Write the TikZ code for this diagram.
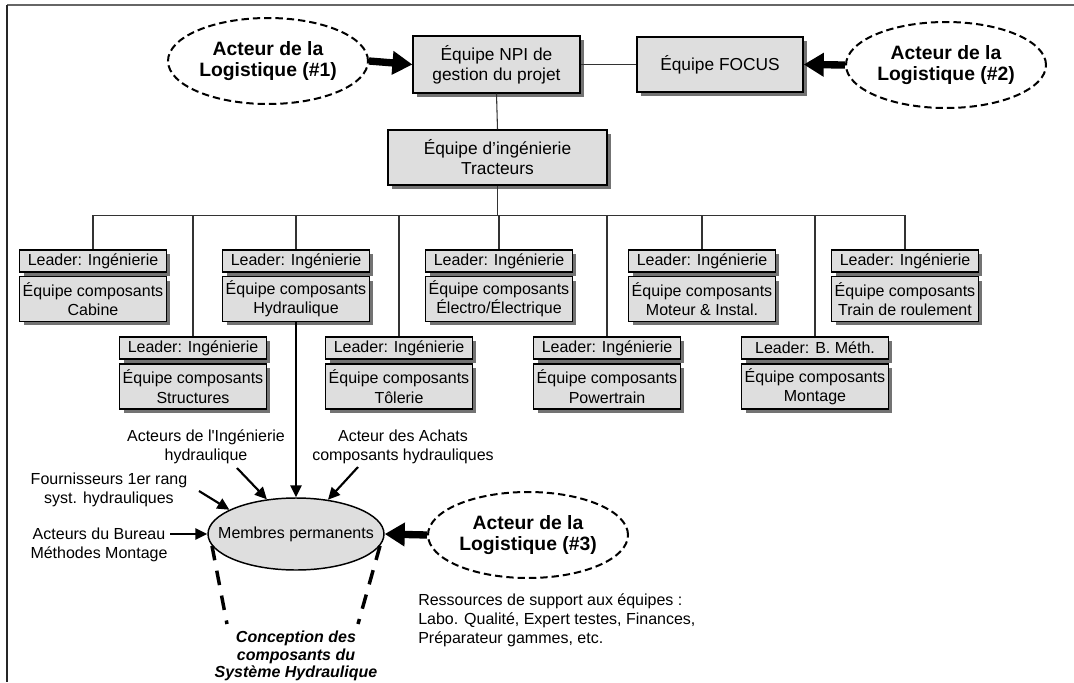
\documentclass[tikz,border=0pt]{standalone}
\usepackage{fontspec}
\setmainfont{Liberation Sans}
\usetikzlibrary{shapes.geometric,shadows,arrows.meta}
\begin{document}
\begin{tikzpicture}[x=0.75pt,y=-0.75pt,
  box/.style={draw=black, line width=1.1pt, fill=black!13, align=center, inner sep=0pt,
    font=\fontsize{12}{14.5}\selectfont,
    drop shadow={shadow xshift=3pt, shadow yshift=-3pt, fill=black!55, opacity=1}},
  bigbox/.style={box, font=\fontsize{13}{15}\selectfont},
  leadbox/.style={box, minimum width=110pt, minimum height=16.5pt},
  teambox/.style={box, minimum width=110pt, minimum height=33.5pt},
  actor/.style={ellipse, draw=black, line width=1.5pt, dash pattern=on 5.5pt off 3pt, align=center,
    inner xsep=-10pt, inner ysep=0pt, minimum width=150pt, minimum height=64.5pt,
    font=\fontsize{14.5}{16}\selectfont\bfseries},
  core/.style={ellipse, draw=black, line width=1.1pt, fill=black!13, inner xsep=-16pt, inner ysep=0pt,
    minimum width=132pt, minimum height=54pt, font=\fontsize{12}{14.5}\selectfont},
  lbl/.style={align=center, inner sep=0pt, font=\fontsize{12}{14.3}\selectfont},
  conn/.style={draw=black!80, line width=0.8pt},
  bigarrow/.style={line width=5.5pt, -{Triangle[length=15pt,width=17pt]}},
  smallarrow/.style={line width=1.6pt, -{Triangle[length=9pt,width=8.5pt]}},
  leg/.style={line width=2.6pt, dash pattern=on 11pt off 8pt}
]
\useasboundingbox (0,0) rectangle (1074,682);
% frame
\draw[line width=1.2pt, black!60] (7,5) -- (1074,5);
\draw[line width=1.2pt, black!85] (7,5) -- (7,682);

% top row
\node[actor] (ell1) at (268,61) {Acteur de la\\Logistique (\#1)};
\node[bigbox, minimum width=125pt, minimum height=42.75pt] (npi) at (496.5,64.5) {Équipe NPI de\\gestion du projet};
\node[bigbox, minimum width=124.5pt, minimum height=41.25pt] (focus) at (720,64.5) {Équipe FOCUS};
\node[actor] (ell2) at (946,65) {Acteur de la\\Logistique (\#2)};
\node[bigbox, minimum width=164pt, minimum height=41.25pt] (ing) at (497.5,157.5) {Équipe d’ingénierie\\Tracteurs};

\draw[conn] (npi.east) -- (focus.west);
\draw[conn] (npi.south) -- (ing.north);
\draw[bigarrow] (ell1.east) -- (npi.west);
\draw[bigarrow] (ell2.west) -- (focus.east);

% team boxes, upper row
\node[leadbox] (cabL) at (93,261) {Leader: Ingénierie};
\node[teambox] (cabT) at (93,299) {Équipe composants\\Cabine};
\node[leadbox] (hydL) at (296,261) {Leader: Ingénierie};
\node[teambox] (hydT) at (296,299) {Équipe composants\\Hydraulique};
\node[leadbox] (eleL) at (499,261) {Leader: Ingénierie};
\node[teambox] (eleT) at (499,299) {Équipe composants\\Électro/Électrique};
\node[leadbox] (motL) at (702,261) {Leader: Ingénierie};
\node[teambox] (motT) at (702,299) {Équipe composants\\Moteur \& Instal.};
\node[leadbox] (traL) at (905,261) {Leader: Ingénierie};
\node[teambox] (traT) at (905,299) {Équipe composants\\Train de roulement};
% lower row
\node[leadbox] (strL) at (193,348) {Leader: Ingénierie};
\node[teambox] (strT) at (193,386.5) {Équipe composants\\Structures};
\node[leadbox] (tolL) at (399,348) {Leader: Ingénierie};
\node[teambox] (tolT) at (399,386.5) {Équipe composants\\Tôlerie};
\node[leadbox] (powL) at (607,348) {Leader: Ingénierie};
\node[teambox] (powT) at (607,386.5) {Équipe composants\\Powertrain};
\node[leadbox] (monL) at (815,348) {Leader: B. Méth.};
\node[teambox] (monT) at (815,386.5) {Équipe composants\\Montage};

\coordinate (bus) at (497.5,215.5);
\draw[conn] (ing.south) -- (bus);
\foreach \n in {cabL,hydL,eleL,motL,traL,strL,tolL,powL,monL}
  \draw[conn] (bus) -| (\n.north);

% lower part
\node[core] (mem) at (296,534) {Membres permanents};
\node[actor] (ell3) at (528,535) {Acteur de la\\Logistique (\#3)};
\node[lbl] (ingLbl) at (206,447) {Acteurs de l\textquotesingle Ingénierie\\hydraulique};
\node[lbl] (achLbl) at (403,447) {Acteur des Achats\\composants hydrauliques};
\node[lbl] (fouLbl) at (109,490) {Fournisseurs 1er rang\\syst. hydrauliques};
\node[lbl] (burLbl) at (99,545) {Acteurs du Bureau\\Méthodes Montage};
\node[lbl, anchor=west, align=left] (resLbl) at (418,620) {Ressources de support aux équipes :\\Labo. Qualité, Expert testes, Finances,\\Préparateur gammes, etc.};
\node[lbl, font=\fontsize{12}{13}\selectfont\bfseries\itshape] (conc) at (296,656) {Conception des\\composants du\\Système Hydraulique};

\coordinate (fouS) at (199,491);
\coordinate (ingS) at (237,468);
\coordinate (achS) at (358,467);
\coordinate (burS) at (170,534);
\coordinate (legL) at (227,624);
\coordinate (legR) at (358,624);

\draw[smallarrow] (hydT.south) -- (mem.north);
\draw[smallarrow] (fouS) -- (mem.160);
\draw[smallarrow] (ingS) -- (mem.130);
\draw[smallarrow] (achS) -- (mem.47);
\draw[smallarrow] (burS) -- (mem.west);
\draw[bigarrow] (ell3.west) -- (mem.east);
\draw[leg] (mem.188) -- (legL);
\draw[leg] (mem.352) -- (legR);
\end{tikzpicture}
\end{document}
